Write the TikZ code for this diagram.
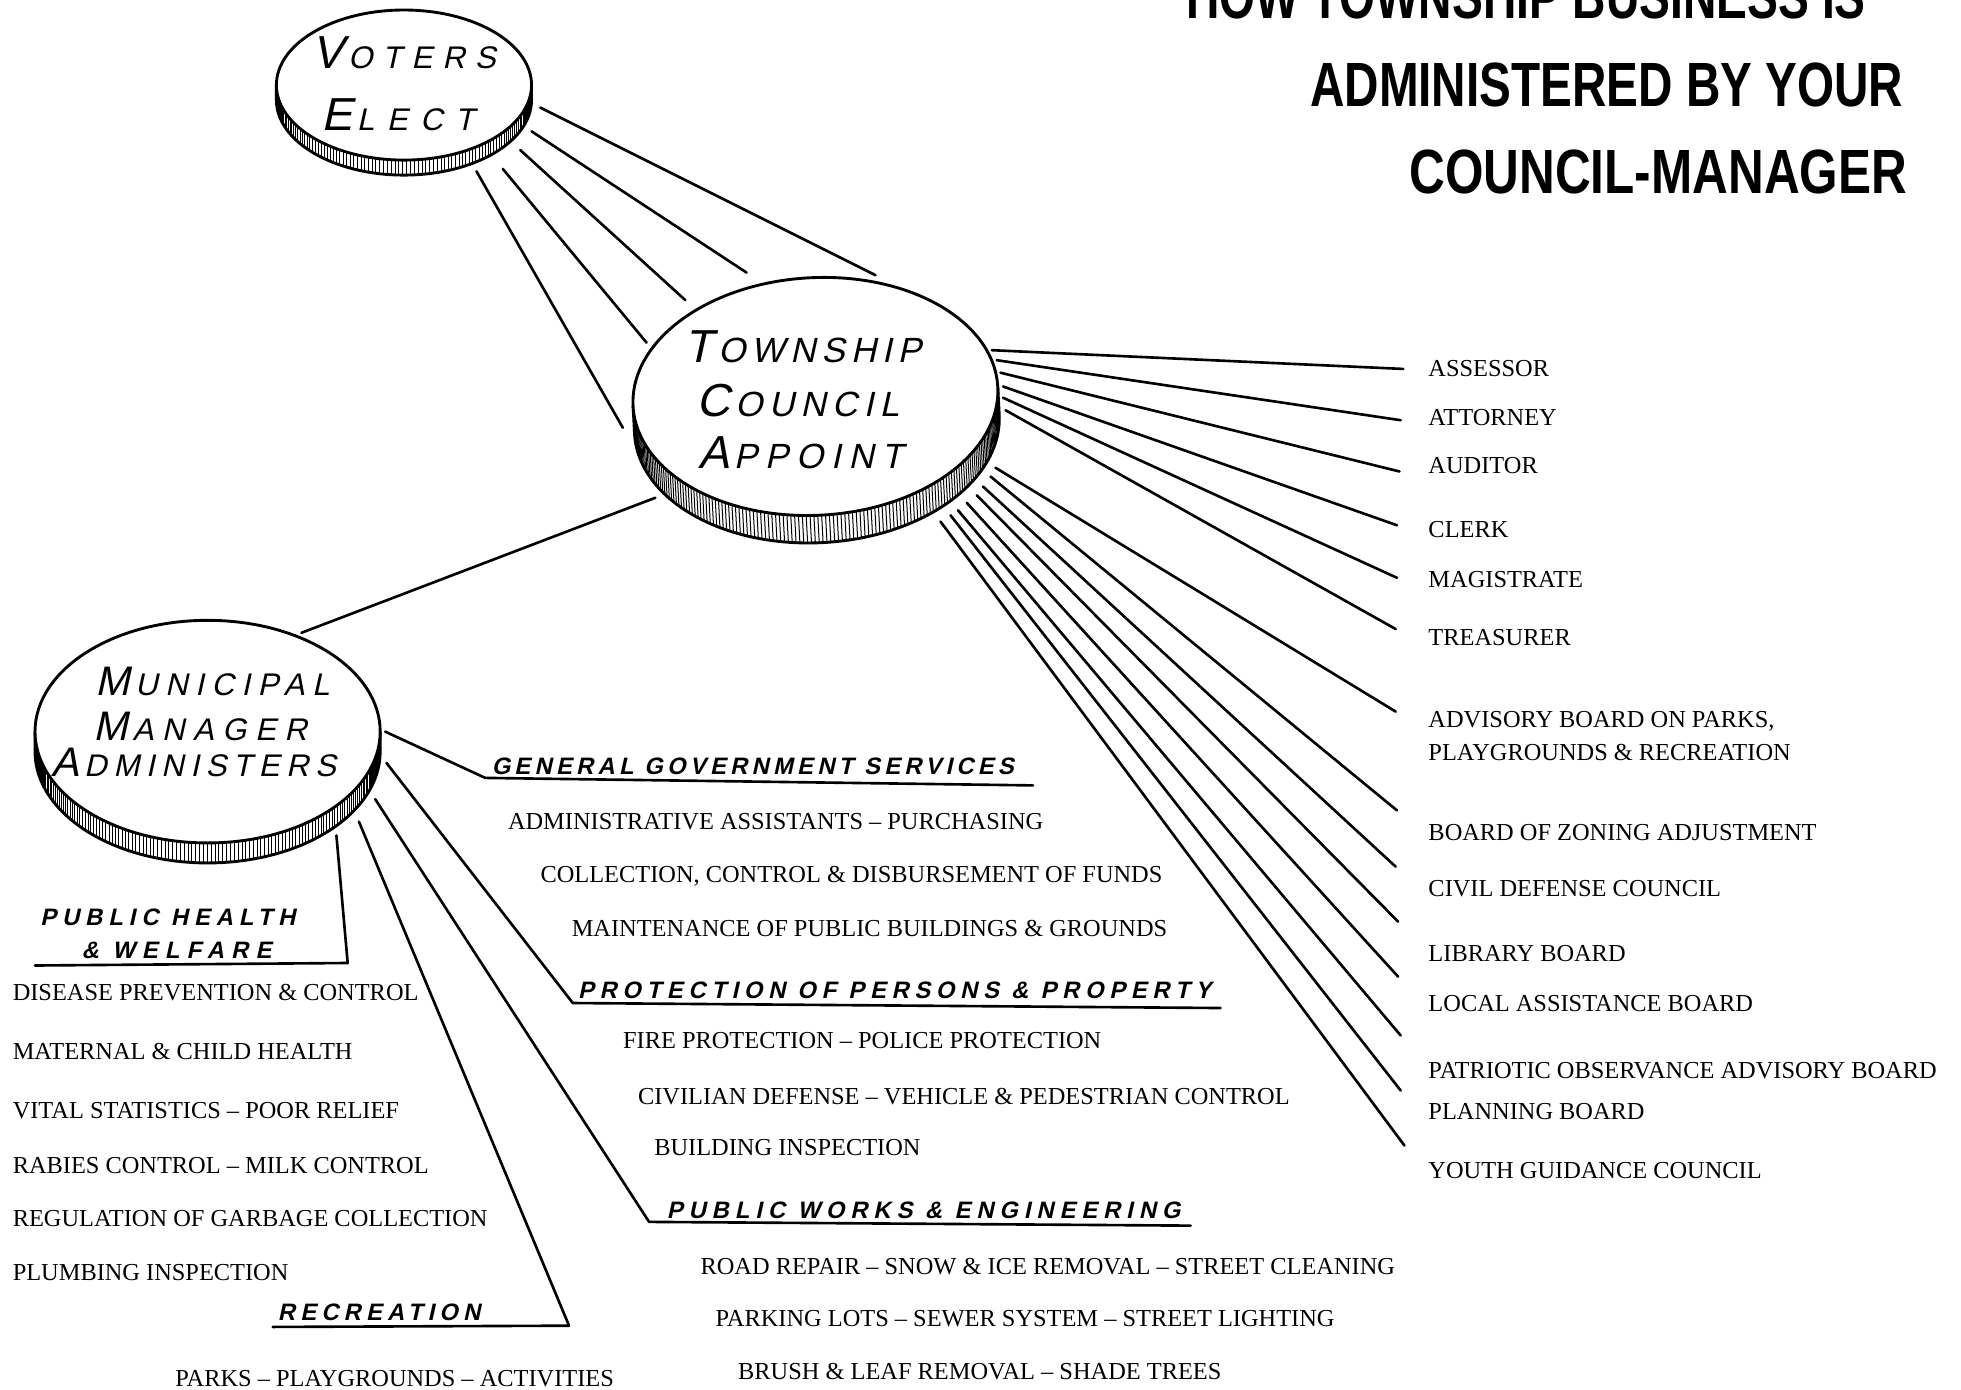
\documentclass[tikz,border=0pt]{standalone}
\usepackage{graphicx}
\usepackage{fontspec}
\setmainfont{Liberation Serif}
\newfontfamily\titlefont{Liberation Sans}
\newfontfamily\handfont{Liberation Sans}[FakeSlant=0.22]
\usetikzlibrary{calc}

\tikzset{
  conn/.style={line width=2.1pt, line cap=round, line join=round},
  coinline/.style={line width=2.3pt},
  hatch/.style={line width=0.8pt},
  titlestyle/.style={inner sep=0pt, anchor=base east, font=\titlefont\bfseries\fontsize{50}{52}\selectfont},
  item/.style={anchor=base west, inner sep=0pt, font=\fontsize{19.5}{21}\selectfont},
  head/.style={anchor=base west, inner sep=0pt, font=\handfont\bfseries\fontsize{19}{20}\selectfont\addfontfeature{LetterSpace=#1}},
  head/.default=18,
  cointext/.style={anchor=base, inner sep=0pt, font=\handfont\addfontfeature{LetterSpace=#1}},
}

% coin: name, cx, cy, a, b, rotation, thickness
\newcommand\coin[7]{%
  \begin{scope}[shift={(#2,#3)},rotate=#6]
    \fill[white] (#4,0) -- (#4,#7) arc[start angle=0,end angle=180,x radius=#4,y radius=#5] -- (-#4,0) -- cycle;
    \pgfmathsetmacro\sa{3.1/#4*180/pi}
    \pgfmathsetmacro\sb{2*\sa}
    \foreach \t in {\sa,\sb,...,179.5}{\draw[hatch] ({#4*cos(\t)},{#5*sin(\t)}) -- ++(0,#7);}
    \draw[coinline] (#4,0) -- (#4,#7) arc[start angle=0,end angle=180,x radius=#4,y radius=#5] -- (-#4,0);
    \draw[coinline,fill=white] (0,0) ellipse[x radius=#4,y radius=#5];
    \coordinate (#1) at (0,0);
  \end{scope}}

\newcommand\cw[4]{{\fontsize{#1}{#1}\selectfont #3}\kern4pt{\fontsize{#2}{#2}\selectfont #4}}

\begin{document}
\begin{tikzpicture}[x=1pt,y=-1pt]
\useasboundingbox (0,0) rectangle (1568,1111);
\fill[white] (0,0) rectangle (1568,1111);

% ---------- title ----------
\node[titlestyle] (title1) at (1492,15) {\scalebox{0.739}[1]{HOW TOWNSHIP BUSINESS IS}};
\node[titlestyle] (title2) at (1522,85) {\scalebox{0.762}[1]{ADMINISTERED BY YOUR}};
\node[titlestyle] (title3) at (1525,155) {\scalebox{0.791}[1]{COUNCIL-MANAGER}};

% ---------- coins ----------
\coin{voters}{323}{68}{102}{60}{0}{12}
\coin{council}{652}{317}{146}{95}{3}{22}
\coin{manager}{166}{585}{138}{89}{0}{16}

\node[cointext=32] (vt1) at (323,55) {\cw{37}{25}{V}{OTERS}};
\node[cointext=40] (vt2) at (318,104) {\cw{37}{25}{E}{LECT}};
\node[cointext=17] (ct1) at (642,290) {\cw{37}{28}{T}{OWNSHIP}};
\node[cointext=18] (ct2) at (638,333) {\cw{37}{28}{C}{OUNCIL}};
\node[cointext=22] (ct3) at (640,375) {\cw{37}{28}{A}{PPOINT}};
\node[cointext=24] (mt1) at (170,556) {\cw{33}{25}{M}{UNICIPAL}};
\node[cointext=27] (mt2) at (160,592) {\cw{33}{25}{M}{ANAGER}};
\node[cointext=21] (mt3) at (155,621) {\cw{33}{25}{A}{DMINISTERS}};

% ---------- voters -> council ----------
\coordinate (va1) at (432,86);  \coordinate (ca1) at (700,220);
\coordinate (va2) at (425,105); \coordinate (ca2) at (597,218);
\coordinate (va3) at (416,120); \coordinate (ca3) at (548,240);
\coordinate (va4) at (402,135); \coordinate (ca4) at (517,274);
\coordinate (va5) at (381,137); \coordinate (ca5) at (498,342);
\foreach \i in {1,...,5}{\draw[conn] (va\i) -- (ca\i);}

% ---------- council -> manager ----------
\coordinate (cm1) at (524,398); \coordinate (mc1) at (241,506);
\draw[conn] (cm1) -- (mc1);

% ---------- appointed offices ----------
\node[item] (r1) at (1142,301) {ASSESSOR};
\node[item] (r2) at (1142,340) {ATTORNEY};
\node[item] (r3) at (1142,379) {AUDITOR};
\node[item] (r4) at (1142,430) {CLERK};
\node[item] (r5) at (1142,470) {MAGISTRATE};
\node[item] (r6) at (1142,516) {TREASURER};
\node[item] (r7) at (1142,582) {ADVISORY BOARD ON PARKS,};
\node[item] (r7b) at (1142,608) {PLAYGROUNDS \& RECREATION};
\node[item] (r8) at (1142,672) {BOARD OF ZONING ADJUSTMENT};
\node[item] (r9) at (1142,717) {CIVIL DEFENSE COUNCIL};
\node[item] (r10) at (1142,769) {LIBRARY BOARD};
\node[item] (r11) at (1142,809) {LOCAL ASSISTANCE BOARD};
\node[item] (r12) at (1142,862) {PATRIOTIC OBSERVANCE ADVISORY BOARD};
\node[item] (r13) at (1142,895) {PLANNING BOARD};
\node[item] (r14) at (1142,942) {YOUTH GUIDANCE COUNCIL};

\foreach \i/\sx/\sy/\ex/\ey in {1/793/280/1122/295, 2/797/288/1120/336, 3/800/298/1119/377,
  4/802/309/1117/420, 5/802/318/1117/462, 6/804/328/1116/503, 7/796/374/1116/569,
  8/792/381/1117/648, 9/786/389/1116/693, 10/781/396/1118/737, 11/773/402/1118/781,
  12/766/408/1120/828, 13/760/412/1120/872, 14/752/417/1123/916}{
  \coordinate (cs\i) at (\sx,\sy);
  \coordinate (re\i) at (\ex,\ey);
  \draw[conn] (cs\i) -- (re\i);
}

% ---------- manager departments ----------
\coordinate (m1) at (308,585); \coordinate (g1) at (388,622); \coordinate (g2) at (826,628);
\coordinate (m2) at (309,610); \coordinate (p1) at (458,802); \coordinate (p2) at (976,806);
\coordinate (m3) at (300,639); \coordinate (w1) at (519,977); \coordinate (w2) at (952,980);
\coordinate (m4) at (287,657); \coordinate (rc1) at (455,1060); \coordinate (rc2) at (218,1061);
\coordinate (m5) at (269,668); \coordinate (h1) at (278,770); \coordinate (h2) at (28,772);
\draw[conn] (m1) -- (g1) -- (g2);
\draw[conn] (m2) -- (p1) -- (p2);
\draw[conn] (m3) -- (w1) -- (w2);
\draw[conn] (m4) -- (rc1) -- (rc2);
\draw[conn] (m5) -- (h1) -- (h2);

\node[head=18] (hg) at (393,619) {GENERAL GOVERNMENT SERVICES};
\node[item] (g-a) at (406,663) {ADMINISTRATIVE ASSISTANTS – PURCHASING};
\node[item] (g-b) at (432,706) {COLLECTION, CONTROL \& DISBURSEMENT OF FUNDS};
\node[item] (g-c) at (457,749) {MAINTENANCE OF PUBLIC BUILDINGS \& GROUNDS};

\node[head=24] (hp) at (462,798) {PROTECTION OF PERSONS \& PROPERTY};
\node[item] (p-a) at (498,838) {FIRE PROTECTION – POLICE PROTECTION};
\node[item] (p-b) at (510,883) {CIVILIAN DEFENSE – VEHICLE \& PEDESTRIAN CONTROL};
\node[item] (p-c) at (523,924) {BUILDING INSPECTION};

\node[head=25] (hw) at (533,974) {PUBLIC WORKS \& ENGINEERING};
\node[item] (w-a) at (560,1019) {ROAD REPAIR – SNOW \& ICE REMOVAL – STREET CLEANING};
\node[item] (w-b) at (572,1061) {PARKING LOTS – SEWER SYSTEM – STREET LIGHTING};
\node[item] (w-c) at (590,1103) {BRUSH \& LEAF REMOVAL – SHADE TREES};

\node[head=22] (hr) at (222,1056) {RECREATION};
\node[item] (rc-a) at (140,1109) {PARKS – PLAYGROUNDS – ACTIVITIES};

\node[head=25] (hh1) at (32,740) {PUBLIC HEALTH};
\node[head=30] (hh2) at (65,766) {\& WELFARE};
\node[item] (h-a) at (10,800) {DISEASE PREVENTION \& CONTROL};
\node[item] (h-b) at (10,847) {MATERNAL \& CHILD HEALTH};
\node[item] (h-c) at (10,894) {VITAL STATISTICS – POOR RELIEF};
\node[item] (h-d) at (10,938) {RABIES CONTROL – MILK CONTROL};
\node[item] (h-e) at (10,981) {REGULATION OF GARBAGE COLLECTION};
\node[item] (h-f) at (10,1024) {PLUMBING INSPECTION};
\end{tikzpicture}
\end{document}
